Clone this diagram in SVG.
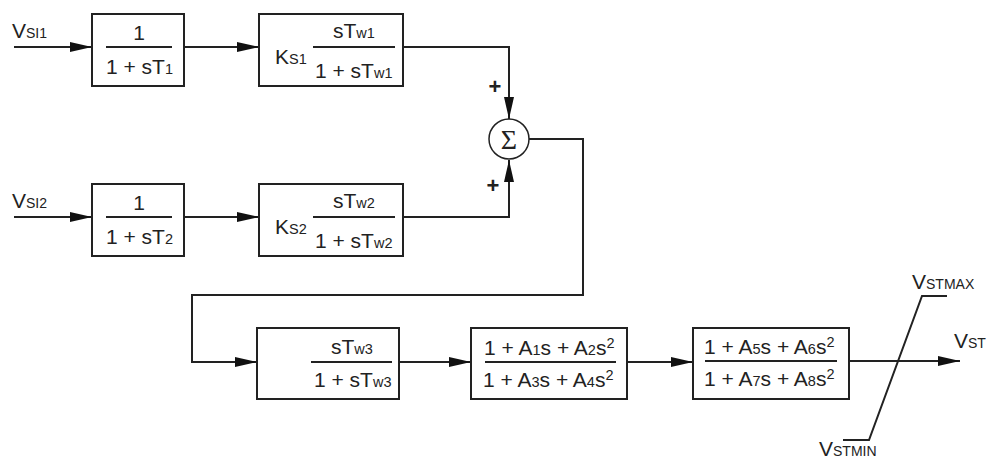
<svg xmlns="http://www.w3.org/2000/svg" width="988" height="459" viewBox="0 0 988 459">
<defs>
<style>
.blk{fill:#fff;stroke:#222;stroke-width:2}
.ln{fill:none;stroke:#222;stroke-width:2}
.frac{stroke:#222;stroke-width:2}
.arr{marker-end:url(#ah)}
text{font-family:"Liberation Sans",Arial,Helvetica,sans-serif;font-size:21px;fill:#222}
.sub{font-size:14.5px}
.lsub{font-size:14px}
.sig{font-family:"Liberation Serif","Times New Roman",serif;font-size:28px}
.pl{font-size:22px;font-weight:bold}
</style>
<marker id="ah" markerUnits="userSpaceOnUse" markerWidth="24" markerHeight="12" refX="22" refY="5" orient="auto" viewBox="0 0 24 12">
<path d="M0,0 L22,5 L0,10 z" fill="#111"/>
</marker>
</defs>
<rect width="988" height="459" fill="#fff"/>

<g id="connectors">
<path class="ln arr" d="M14,47 H92"/>
<path class="ln arr" d="M184,47 H259"/>
<path class="ln arr" d="M14,217 H92"/>
<path class="ln arr" d="M184,217 H259"/>
<path class="ln arr" d="M403,47 H509 V119"/>
<path class="ln arr" d="M403,217 H509 V160"/>
<path class="ln arr" d="M529,139 H583 V295 H192 V362 H257"/>
<path class="ln arr" d="M399,362 H471"/>
<path class="ln arr" d="M627,362 H693"/>
<path class="ln arr" d="M849,361 H960"/>
</g>

<g id="labels">
<text x="12" y="38">V<tspan class="lsub">SI1</tspan></text>
<text x="12" y="208">V<tspan class="lsub">SI2</tspan></text>
<text x="954" y="348">V<tspan class="lsub">ST</tspan></text>
<text x="912" y="289">V<tspan class="lsub">STMAX</tspan></text>
<text x="819" y="456">V<tspan class="lsub">STMIN</tspan></text>
</g>

<g id="block1">
<rect class="blk" x="92" y="14" width="92" height="72"/>
<text x="139" y="40" text-anchor="middle">1</text>
<line class="frac" x1="106" y1="47" x2="172" y2="47"/>
<text x="106" y="74">1 + sT<tspan class="sub">1</tspan></text>
</g>

<g id="block2">
<rect class="blk" x="259" y="14" width="144" height="72"/>
<text x="275" y="64">K<tspan class="sub">S1</tspan></text>
<text x="333" y="38">sT<tspan class="sub">w1</tspan></text>
<line class="frac" x1="313" y1="47" x2="395" y2="47"/>
<text x="315" y="78">1 + sT<tspan class="sub">w1</tspan></text>
</g>

<g id="block3">
<rect class="blk" x="92" y="184" width="92" height="72"/>
<text x="139" y="210" text-anchor="middle">1</text>
<line class="frac" x1="106" y1="217" x2="172" y2="217"/>
<text x="106" y="244">1 + sT<tspan class="sub">2</tspan></text>
</g>

<g id="block4">
<rect class="blk" x="259" y="184" width="144" height="72"/>
<text x="275" y="234">K<tspan class="sub">S2</tspan></text>
<text x="333" y="208">sT<tspan class="sub">w2</tspan></text>
<line class="frac" x1="313" y1="217" x2="395" y2="217"/>
<text x="315" y="248">1 + sT<tspan class="sub">w2</tspan></text>
</g>

<g id="sum">
<circle cx="509" cy="139" r="20" fill="#fff" stroke="#222" stroke-width="1.5"/>
<text class="sig" x="509" y="149" text-anchor="middle">Σ</text>
<text class="pl" x="495" y="94" text-anchor="middle">+</text>
<text class="pl" x="493" y="193" text-anchor="middle">+</text>
</g>

<g id="block5">
<rect class="blk" x="257" y="328" width="142" height="71"/>
<text x="331" y="354">sT<tspan class="sub">w3</tspan></text>
<line class="frac" x1="311" y1="362" x2="392" y2="362"/>
<text x="314" y="387">1 + sT<tspan class="sub">w3</tspan></text>
</g>

<g id="block6">
<rect class="blk" x="471" y="328" width="156" height="71"/>
<text x="484" y="355">1 + A<tspan class="sub">1</tspan>s + A<tspan class="sub">2</tspan>s<tspan class="sub" dy="-7">2</tspan></text>
<line class="frac" x1="485" y1="362" x2="616" y2="362"/>
<text x="483" y="387">1 + A<tspan class="sub">3</tspan>s + A<tspan class="sub">4</tspan>s<tspan class="sub" dy="-7">2</tspan></text>
</g>

<g id="block7">
<rect class="blk" x="693" y="328" width="156" height="71"/>
<text x="704" y="354">1 + A<tspan class="sub">5</tspan>s + A<tspan class="sub">6</tspan>s<tspan class="sub" dy="-7">2</tspan></text>
<line class="frac" x1="705" y1="361" x2="837" y2="361"/>
<text x="704" y="386">1 + A<tspan class="sub">7</tspan>s + A<tspan class="sub">8</tspan>s<tspan class="sub" dy="-7">2</tspan></text>
</g>

<g id="limiter">
<path class="ln" d="M843,440 H869 L922,296 H947" stroke-width="1.5"/>
</g>
</svg>
